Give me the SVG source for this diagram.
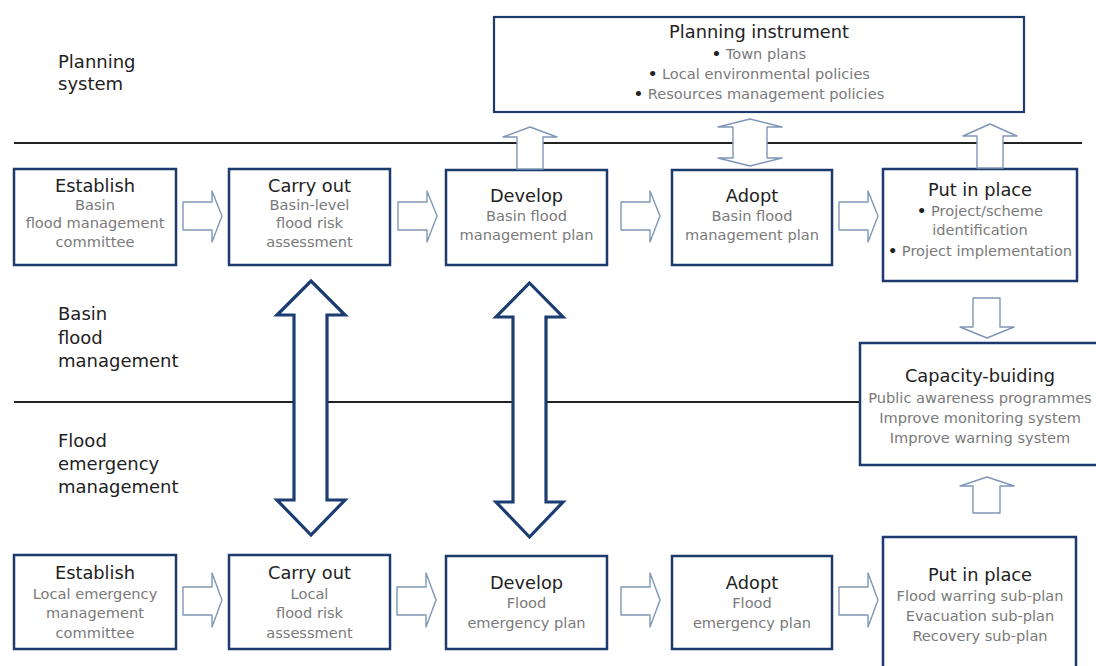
<svg xmlns="http://www.w3.org/2000/svg" width="1096" height="666" viewBox="0 0 1096 666">
<style>
.bg{fill:#fff}
.box{fill:#fff;stroke:#1c3b6c;stroke-width:2.5}
.pbox{fill:#fff;stroke:#1c3b6c;stroke-width:2.2}
.sep{stroke:#222;stroke-width:2}
.sa{fill:#fff;stroke:#7f96b7;stroke-width:1.4;stroke-linejoin:round}
.ba{fill:#fff;stroke:#1c3d72;stroke-width:3.2;stroke-linejoin:miter}
text{font-family:"DejaVu Sans","Liberation Sans",sans-serif}
.t{font-size:17.8px;fill:#222;text-anchor:middle}
.s{font-size:14.6px;fill:#7a7a7a;text-anchor:middle}
.b{fill:#222;font-weight:bold}
.lbl{font-size:18px;fill:#222}
</style>
<rect class="bg" x="0" y="0" width="1096" height="666"/>

<g id="separators">
<line class="sep" x1="14" y1="143" x2="1082" y2="143"/>
<line class="sep" x1="14" y1="402" x2="860" y2="402"/>
</g>

<g id="labels">
<text class="lbl" x="58" y="68">Planning</text>
<text class="lbl" x="58" y="90">system</text>
<text class="lbl" x="58" y="320">Basin</text>
<text class="lbl" x="58" y="344">flood</text>
<text class="lbl" x="58" y="367">management</text>
<text class="lbl" x="58" y="447">Flood</text>
<text class="lbl" x="58" y="470">emergency</text>
<text class="lbl" x="58" y="493">management</text>
</g>

<g id="planning-instrument">
<rect class="pbox" x="494" y="17" width="530" height="95"/>
<text class="t" x="759" y="38">Planning instrument</text>
<text class="s" x="759" y="59"><tspan class="b">•</tspan> Town plans</text>
<text class="s" x="759" y="79"><tspan class="b">•</tspan> Local environmental policies</text>
<text class="s" x="759" y="99"><tspan class="b">•</tspan> Resources management policies</text>
</g>

<g id="basin-establish">
<rect class="box" x="14" y="169" width="162" height="96"/>
<text class="t" x="95" y="192">Establish</text>
<text class="s" x="95" y="210">Basin</text>
<text class="s" x="95" y="228">flood management</text>
<text class="s" x="95" y="247">committee</text>
</g>
<g id="basin-carry-out">
<rect class="box" x="229" y="169" width="161" height="96"/>
<text class="t" x="309.5" y="192">Carry out</text>
<text class="s" x="309.5" y="210">Basin-level</text>
<text class="s" x="309.5" y="228">flood risk</text>
<text class="s" x="309.5" y="247">assessment</text>
</g>
<g id="basin-develop">
<rect class="box" x="446" y="170" width="161" height="95"/>
<text class="t" x="526.5" y="202">Develop</text>
<text class="s" x="526.5" y="221">Basin flood</text>
<text class="s" x="526.5" y="240">management plan</text>
</g>
<g id="basin-adopt">
<rect class="box" x="672" y="170" width="160" height="95"/>
<text class="t" x="752" y="202">Adopt</text>
<text class="s" x="752" y="221">Basin flood</text>
<text class="s" x="752" y="240">management plan</text>
</g>
<g id="basin-put-in-place">
<rect class="box" x="883" y="169" width="194" height="112"/>
<text class="t" x="980" y="196">Put in place</text>
<text class="s" x="980" y="216"><tspan class="b">•</tspan> Project/scheme</text>
<text class="s" x="980" y="235">identification</text>
<text class="s" x="980" y="256"><tspan class="b">•</tspan> Project implementation</text>
</g>

<g id="capacity-building">
<rect class="box" x="860" y="343" width="250" height="122"/>
<text class="t" x="980" y="382">Capacity-buiding</text>
<text class="s" x="980" y="403">Public awareness programmes</text>
<text class="s" x="980" y="423">Improve monitoring system</text>
<text class="s" x="980" y="443">Improve warning system</text>
</g>

<g id="emergency-establish">
<rect class="box" x="14" y="555" width="162" height="94"/>
<text class="t" x="95" y="579">Establish</text>
<text class="s" x="95" y="599">Local emergency</text>
<text class="s" x="95" y="618">management</text>
<text class="s" x="95" y="638">committee</text>
</g>
<g id="emergency-carry-out">
<rect class="box" x="229" y="555" width="161" height="94"/>
<text class="t" x="309.5" y="579">Carry out</text>
<text class="s" x="309.5" y="599">Local</text>
<text class="s" x="309.5" y="618">flood risk</text>
<text class="s" x="309.5" y="638">assessment</text>
</g>
<g id="emergency-develop">
<rect class="box" x="446" y="556" width="161" height="93"/>
<text class="t" x="526.5" y="589">Develop</text>
<text class="s" x="526.5" y="608">Flood</text>
<text class="s" x="526.5" y="628">emergency plan</text>
</g>
<g id="emergency-adopt">
<rect class="box" x="672" y="556" width="160" height="93"/>
<text class="t" x="752" y="589">Adopt</text>
<text class="s" x="752" y="608">Flood</text>
<text class="s" x="752" y="628">emergency plan</text>
</g>
<g id="emergency-put-in-place">
<rect class="box" x="883" y="537" width="193" height="140"/>
<text class="t" x="980" y="581">Put in place</text>
<text class="s" x="980" y="601">Flood warring sub-plan</text>
<text class="s" x="980" y="621">Evacuation sub-plan</text>
<text class="s" x="980" y="641">Recovery sub-plan</text>
</g>

<g id="connectors">
<path class="sa" d="M183,202 H212 V191 L222,216 L212,242 V230 H183 Z"/>
<path class="sa" d="M398,202 H427 V191 L437,216 L427,242 V230 H398 Z"/>
<path class="sa" d="M621,202 H650 V191 L660,216 L650,242 V230 H621 Z"/>
<path class="sa" d="M839,202 H868 V191 L878,216 L868,242 V230 H839 Z"/>
<path class="sa" d="M183,587 H212 V573 L222,600 L212,627 V615 H183 Z"/>
<path class="sa" d="M397,587 H426 V573 L436,600 L426,627 V615 H397 Z"/>
<path class="sa" d="M621,587 H650 V573 L660,600 L650,627 V615 H621 Z"/>
<path class="sa" d="M839,587 H868 V573 L878,600 L868,627 V615 H839 Z"/>
<path class="sa" d="M517,169 V137 H503 L530,127 L557,137 H543 V169 Z"/>
<path class="sa" d="M733,127 H718 L750,119 L782,127 H767 V158 H782 L750,166 L718,158 H733 Z"/>
<path class="sa" d="M977,168 V136 H963 L990,124 L1017,136 H1003 V168 Z"/>
<path class="sa" d="M973,298 H1000 V327 H1014 L987,338 L960,327 H973 Z"/>
<path class="sa" d="M973,513 V486 H960 L987,477 L1014,486 H1000 V513 Z"/>
<path class="ba" d="M311,281 L345,315 H327 V500 H345 L311,535 L277,500 H294 V315 H277 Z"/>
<path class="ba" d="M529.5,283 L563,317 H546 V502 H563 L529.5,537 L496,502 H513 V317 H496 Z"/>
</g>
</svg>
